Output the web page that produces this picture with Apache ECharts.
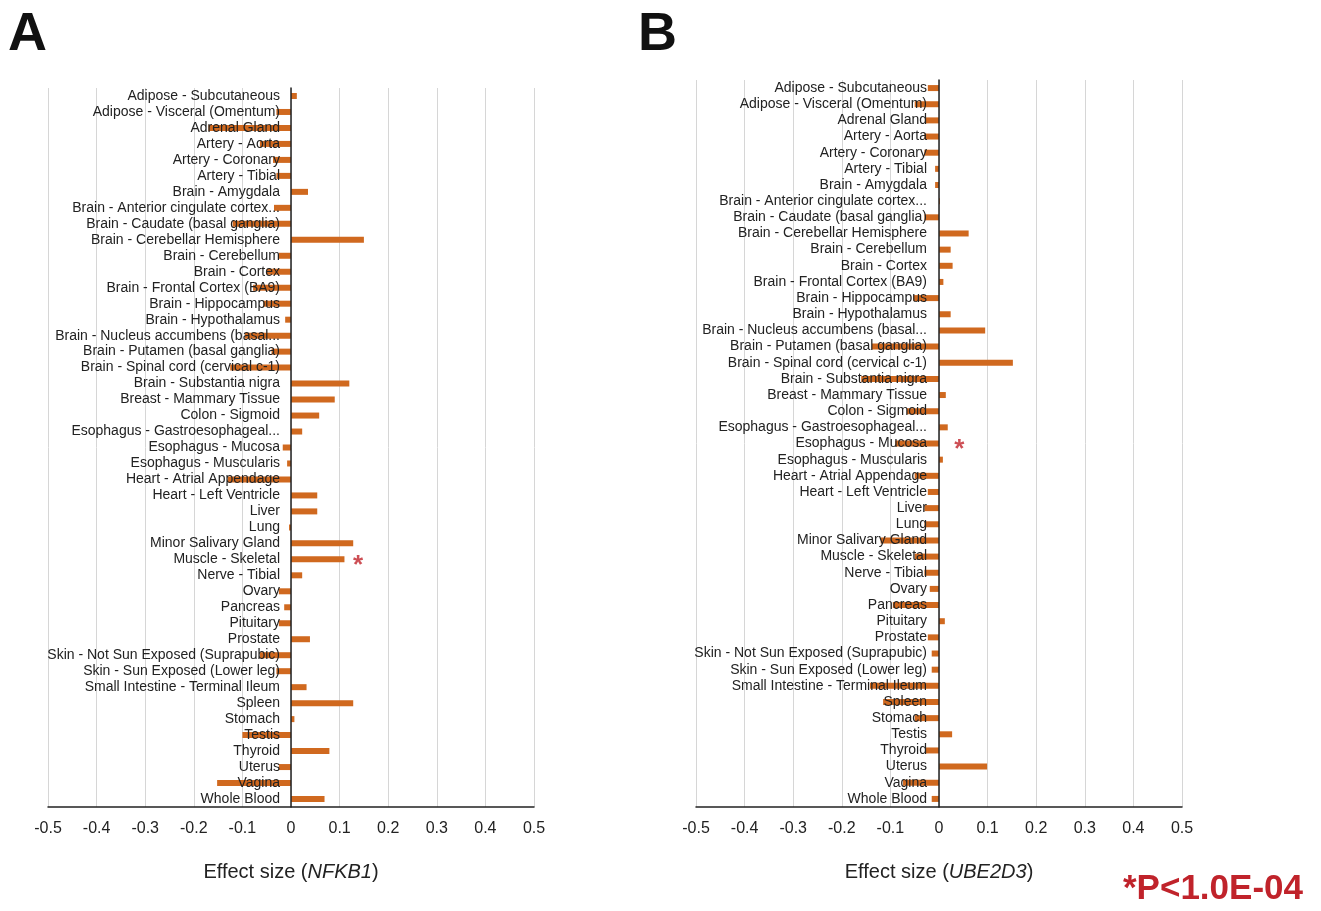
<!DOCTYPE html>
<html>
<head>
<meta charset="utf-8">
<script src="https://cdn.jsdelivr.net/npm/echarts@6/dist/echarts.min.js"></script>
<style>
html,body{margin:0;padding:0;background:#fff;}
#chart{width:1321px;height:911px;}
</style>
</head>
<body>
<div id="chart"></div>
<script>
const tissuesA = [
  'Adipose - Subcutaneous','Adipose - Visceral (Omentum)','Adrenal Gland','Artery - Aorta','Artery - Coronary','Artery - Tibial',
  'Brain - Amygdala','Brain - Anterior cingulate cortex...','Brain - Caudate (basal ganglia)','Brain - Cerebellar Hemisphere',
  'Brain - Cerebellum','Brain - Cortex','Brain - Frontal Cortex (BA9)','Brain - Hippocampus','Brain - Hypothalamus',
  'Brain - Nucleus accumbens (basal...','Brain - Putamen (basal ganglia)','Brain - Spinal cord (cervical c-1)','Brain - Substantia nigra',
  'Breast - Mammary Tissue','Colon - Sigmoid','Esophagus - Gastroesophageal...','Esophagus - Mucosa','Esophagus - Muscularis',
  'Heart - Atrial Appendage','Heart - Left Ventricle','Liver','Lung','Minor Salivary Gland','Muscle - Skeletal','Nerve - Tibial',
  'Ovary','Pancreas','Pituitary','Prostate','Skin - Not Sun Exposed (Suprapubic)','Skin - Sun Exposed (Lower leg)',
  'Small Intestine - Terminal Ileum','Spleen','Stomach','Testis','Thyroid','Uterus','Vagina','Whole Blood'
];
const tissuesB = tissuesA.slice();

const effectNFKB1 = [
  0.012,-0.03,-0.17,-0.064,-0.037,-0.03,
  0.035,-0.035,-0.12,0.15,
  -0.025,-0.05,-0.078,-0.057,-0.012,
  -0.095,-0.04,-0.125,0.12,
  0.09,0.058,0.023,-0.017,-0.008,
  -0.13,0.054,0.054,-0.004,0.128,0.11,0.023,
  -0.025,-0.014,-0.025,0.039,-0.064,-0.03,
  0.032,0.128,0.007,-0.1,0.079,-0.025,-0.152,0.069
];
const effectUBE2D3 = [
  -0.023,-0.05,-0.029,-0.03,-0.03,-0.008,
  -0.008,0.002,-0.03,0.061,
  0.024,0.028,0.009,-0.053,0.024,
  0.095,-0.138,0.152,-0.16,
  0.014,-0.066,0.018,-0.09,0.008,
  -0.05,-0.023,-0.03,-0.03,-0.12,-0.05,-0.03,
  -0.019,-0.095,0.012,-0.023,-0.015,-0.015,
  -0.142,-0.115,-0.05,0.027,-0.027,0.099,-0.074,-0.015
];
const xTicks = [-0.5,-0.4,-0.3,-0.2,-0.1,0,0.1,0.2,0.3,0.4,0.5];
const sigA = [['Muscle - Skeletal', 0.138]];
const sigB = [['Esophagus - Mucosa', 0.042]];

const FONT = "'Liberation Sans', Arial, sans-serif";
const barColor = '#D0691F';
const GRID_W = 486;

function xAxisCfg(gridIndex, gene){
  return {
    type:'value', gridIndex, min:xTicks[0], max:xTicks[xTicks.length-1], interval:0.1,
    axisLine:{show:true, onZero:false, lineStyle:{color:'#222', width:1.5}},
    axisTick:{show:false},
    splitLine:{show:true, lineStyle:{color:'#d6d6d6', width:1}},
    axisLabel:{color:'#222', fontSize:16, fontFamily:FONT, margin:14,
      formatter: v => { const r = Math.round(v*10)/10; return r === 0 ? '0' : String(r); }},
    name:'{n|Effect size (}{i|'+gene+'}{n|)}', nameLocation:'middle', nameGap:55,
    nameTextStyle:{rich:{
      n:{fontSize:20, fontFamily:FONT, color:'#222'},
      i:{fontSize:20, fontFamily:FONT, color:'#222', fontStyle:'italic'}
    }},
    z:1
  };
}
function yAxisCfg(gridIndex, cats, margin){
  // place the category axis (line + labels) at x = 0 of the value axis
  const zeroShift = GRID_W * (0 - xTicks[0]) / (xTicks[xTicks.length-1] - xTicks[0]);
  return {
    type:'category', gridIndex, data:cats, inverse:true, position:'left', offset:-zeroShift,
    axisLine:{show:true, onZero:false, lineStyle:{color:'#222', width:1.5}},
    axisTick:{show:false},
    splitLine:{show:false},
    axisLabel:{color:'#222', fontSize:14, fontFamily:FONT, margin:margin, interval:0},
    z:5
  };
}

const chart = echarts.init(document.getElementById('chart'));
chart.setOption({
  backgroundColor:'#fff',
  animation:false,
  grid:[
    {left:48, top:88, width:GRID_W, height:719, containLabel:false, outerBoundsMode:'none'},
    {left:696, top:80, width:GRID_W, height:727, containLabel:false, outerBoundsMode:'none'}
  ],
  xAxis:[xAxisCfg(0,'NFKB1'), xAxisCfg(1,'UBE2D3')],
  yAxis:[yAxisCfg(0,tissuesA,11), yAxisCfg(1,tissuesB,12)],
  series:[
    {type:'bar', xAxisIndex:0, yAxisIndex:0, data:effectNFKB1, barWidth:6,
     itemStyle:{color:barColor}, z:2},
    {type:'bar', xAxisIndex:1, yAxisIndex:1, data:effectUBE2D3, barWidth:6,
     itemStyle:{color:barColor}, z:2},
    {type:'scatter', xAxisIndex:0, yAxisIndex:0, symbolSize:0,
     data:sigA.map(d=>[d[1], d[0]]),
     label:{show:true, position:'inside', formatter:'*', color:'#C0232B', fontSize:26, fontWeight:'bold', fontFamily:FONT, offset:[0,6]}},
    {type:'scatter', xAxisIndex:1, yAxisIndex:1, symbolSize:0,
     data:sigB.map(d=>[d[1], d[0]]),
     label:{show:true, position:'inside', formatter:'*', color:'#C0232B', fontSize:26, fontWeight:'bold', fontFamily:FONT, offset:[0,6]}}
  ],
  graphic:[
    {type:'text', left:8, top:8, style:{text:'A', font:"bold 54px 'Liberation Sans', Arial", fill:'#111'}},
    {type:'text', left:638, top:8, style:{text:'B', font:"bold 54px 'Liberation Sans', Arial", fill:'#111'}},
    {type:'text', left:1123, top:872, style:{text:'*P<1.0E-04', font:"bold 35px 'Liberation Sans', Arial", fill:'#C0232B'}}
  ]
});
</script>
</body>
</html>
